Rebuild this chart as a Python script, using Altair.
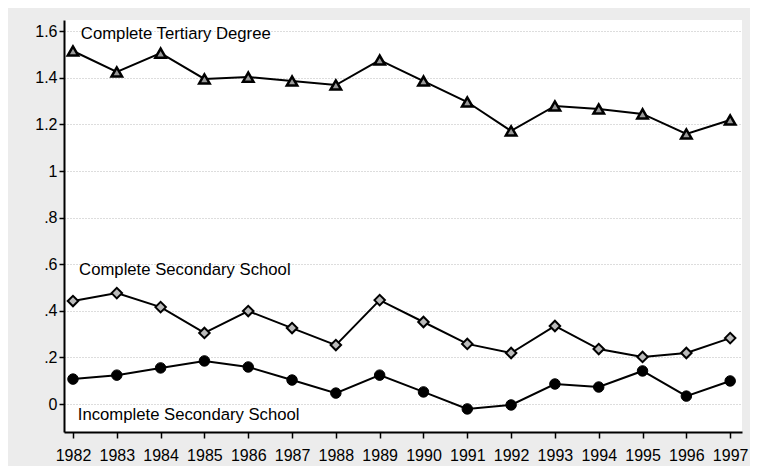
import altair as alt
import pandas as pd

years = list(range(1982, 1998))
tertiary = [1.515, 1.425, 1.506, 1.395, 1.403, 1.386, 1.369, 1.476, 1.386, 1.296, 1.172, 1.279, 1.266, 1.245, 1.159, 1.219]
secondary = [0.442, 0.476, 0.416, 0.305, 0.399, 0.326, 0.253, 0.446, 0.352, 0.258, 0.219, 0.335, 0.236, 0.202, 0.219, 0.283]
incomplete = [0.107, 0.124, 0.155, 0.185, 0.159, 0.103, 0.047, 0.124, 0.052, -0.021, -0.004, 0.086, 0.073, 0.142, 0.034, 0.099]

labels = ["Complete Tertiary Degree", "Complete Secondary School", "Incomplete Secondary School"]
label_x = [1982.18, 1982.14, 1982.11]
label_y = [1.565, 0.555, -0.068]

y_ticks = [0, 0.2, 0.4, 0.6, 0.8, 1.0, 1.2, 1.4, 1.6]

df_t = pd.DataFrame({"year": years, "value": tertiary})
df_s = pd.DataFrame({"year": years, "value": secondary})
df_i = pd.DataFrame({"year": years, "value": incomplete})
df_lab = pd.DataFrame({"year": label_x, "value": label_y, "text": labels})

FONT = "Liberation Sans"

xscale = alt.Scale(domain=[1981.795, 1997.27], nice=False, zero=False)
yscale = alt.Scale(domain=[-0.12, 1.648], nice=False, zero=False)

x_axis = alt.Axis(
    values=years, format="d", title=None, grid=False,
    labelFont=FONT, labelFontSize=16, labelColor="black", labelPadding=9,
    domainColor="black", domainWidth=2, tickColor="black", tickWidth=1.5, tickSize=6,
)
y_axis = alt.Axis(
    values=y_ticks, title=None, grid=True,
    gridColor="#aaaaaa", gridDash=[1, 2], gridWidth=0.8,
    labelExpr="datum.value > 0 && datum.value < 1 ? substring(format(datum.value, '.1f'), 1) : format(datum.value, '.1~f')",
    labelFont=FONT, labelFontSize=16, labelColor="black", labelPadding=2,
    domainColor="black", domainWidth=2, tickColor="black", tickWidth=1.5, tickSize=5,
)

X = alt.X("year:Q", scale=xscale, axis=x_axis)
Y = alt.Y("value:Q", scale=yscale, axis=y_axis)

line_t = alt.Chart(df_t).mark_line(color="black", strokeWidth=2).encode(x=X, y=Y)
pts_t = alt.Chart(df_t).mark_point(shape="triangle-up", filled=True, fill="#9a9a9a", stroke="black",
                                   strokeWidth=2.5, size=110, opacity=1).encode(x=X, y=Y)

line_s = alt.Chart(df_s).mark_line(color="black", strokeWidth=2).encode(x=X, y=Y)
pts_s = alt.Chart(df_s).mark_point(shape="diamond", filled=True, fill="#bbbbbb", stroke="black",
                                   strokeWidth=2, size=110, opacity=1).encode(x=X, y=Y)

line_i = alt.Chart(df_i).mark_line(color="black", strokeWidth=2).encode(x=X, y=Y)
pts_i = alt.Chart(df_i).mark_point(shape="circle", filled=True, fill="black", stroke="black",
                                   strokeWidth=1, size=110, opacity=1).encode(x=X, y=Y)

text = alt.Chart(df_lab).mark_text(font=FONT, fontSize=16.7, color="black", align="left",
                                   baseline="alphabetic").encode(
    x=X, y=Y, text="text:N",
)

chart = alt.layer(line_t, pts_t, line_s, pts_s, line_i, pts_i, text).properties(
    width=678, height=412,
    autosize=alt.AutoSizeParams(type="none"),
    padding={"left": 56, "top": 12, "right": 8, "bottom": 34},
    background="#ececec",
).configure_view(fill="white", stroke=None)

chart.save("out.html", embed_options={"renderer": "svg", "actions": False})
